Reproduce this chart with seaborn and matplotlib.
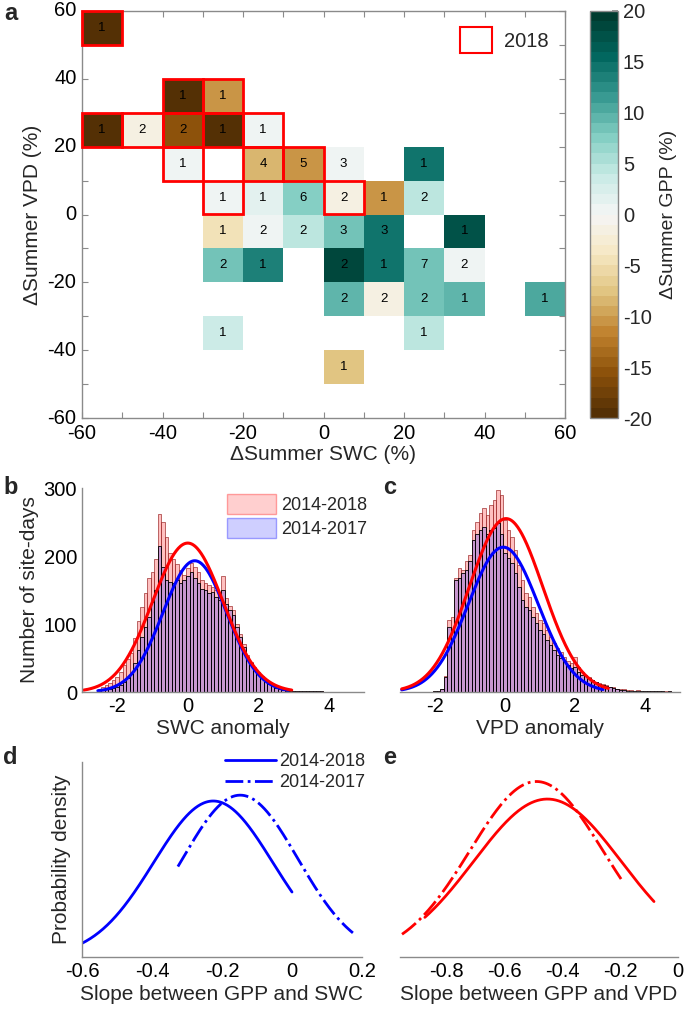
import numpy as np
import pandas as pd
import matplotlib
matplotlib.use("Agg")
import matplotlib.pyplot as plt
import seaborn as sns
from matplotlib.patches import Rectangle, Patch
from matplotlib.lines import Line2D

# ---------------- data ----------------
# panel a: cells (lower-left edges of 10% bins), mean GPP change, count, 2018 flag
cell_swc = [-60, -40, -30, -60, -50, -40, -30, -20, -40, -20, -10, 0, 20,
            -30, -20, -10, 0, 10, 20, -30, -20, -10, 0, 10, 30,
            -30, -20, 0, 10, 20, 30, 0, 10, 20, 30, 50, -30, 20, 0]
cell_vpd = [50, 30, 30, 20, 20, 20, 20, 20, 10, 10, 10, 10, 10,
            0, 0, 0, 0, 0, 0, -10, -10, -10, -10, -10, -10,
            -20, -20, -20, -20, -20, -20, -30, -30, -30, -30, -30, -40, -40, -50]
cell_gpp = [-19.5, -19.5, -10.5, -19.5, -1.5, -15.5, -19.5, 0.3, 0.3, -9, -10.5, 0.8, 14.5,
            0.3, 1.5, 7, -1.5, -11, 4, -5, 0, 4, 8, 14.5, 17,
            8.5, 13, 18, 14, 8, 0.8, 9.5, -1.5, 8, 9.5, 10.5, 3, 4, -8]
cell_n = [1, 1, 1, 1, 2, 2, 1, 1, 1, 4, 5, 3, 1,
          1, 1, 6, 2, 1, 2, 1, 2, 2, 3, 3, 1,
          2, 1, 2, 1, 7, 2, 2, 2, 2, 1, 1, 1, 1, 1]
cell_2018 = [1, 1, 1, 1, 1, 1, 1, 1, 1, 1, 1, 0, 0,
             1, 0, 0, 1, 0, 0, 0, 0, 0, 0, 0, 0,
             0, 0, 0, 0, 0, 0, 0, 0, 0, 0, 0, 0, 0, 0]
axis_ticks_a = [-60, -40, -20, 0, 20, 40, 60]

# panel b: SWC anomaly histogram (bin width 0.1)
swc_centers = [round(-2.5 + 0.1 * i, 1) for i in range(64)]
swc_2018 = [5, 7, 10, 13, 17, 22, 30, 40, 48, 57, 80, 105, 125, 145, 168, 177, 195, 262, 250, 228,
            205, 195, 188, 180, 172, 182, 190, 184, 176, 165, 160, 157, 155, 150, 142, 170, 138, 127,
            120, 100, 85, 70, 54, 44, 37, 30, 24, 19, 14, 10, 7, 5, 4, 3, 2, 2, 1, 1, 1, 1, 2, 1, 2, 1]
swc_2017 = [2, 3, 4, 5, 6, 8, 11, 15, 20, 27, 42, 62, 81, 96, 110, 133, 150, 215, 184, 165,
            162, 160, 165, 160, 165, 170, 177, 167, 160, 152, 150, 145, 147, 140, 135, 150, 130, 120,
            113, 96, 81, 66, 52, 42, 35, 28, 22, 17, 12, 9, 6, 4, 3, 2, 2, 1, 1, 1, 1, 1, 1, 1, 2, 1]

# panel c: VPD anomaly histogram (bin width 0.1)
vpd_centers = [round(-2.0 + 0.1 * i, 1) for i in range(68)]
vpd_2018 = [1, 2, 5, 24, 106, 110, 167, 182, 179, 192, 201, 238, 250, 263, 270, 260, 275, 282, 297, 290,
            253, 238, 228, 209, 187, 165, 145, 140, 125, 116, 106, 101, 91, 81, 72, 64, 59, 52, 45, 42,
            52, 37, 30, 25, 22, 18, 15, 13, 12, 10, 8, 7, 5, 4, 4, 3, 3, 2, 3, 2, 2, 1, 2, 1, 1, 2, 1, 1]
vpd_2017 = [1, 2, 5, 22, 96, 91, 165, 167, 175, 180, 192, 224, 233, 238, 243, 233, 238, 241, 248, 233,
            204, 197, 189, 175, 155, 135, 125, 121, 111, 101, 91, 86, 76, 69, 62, 54, 50, 45, 40, 35,
            37, 30, 25, 23, 20, 17, 14, 12, 10, 9, 7, 6, 4, 3, 3, 2, 2, 2, 2, 1, 1, 1, 1, 1, 1, 1, 0, 1]

# fitted normal curves in b/c: [mean, sd, peak count, x start, x end]
fit_swc_2018 = [0.0, 1.0, 219, -2.95, 2.95]
fit_swc_2017 = [0.2, 0.9, 193, -2.55, 2.85]
fit_vpd_2018 = [0.03, 1.05, 255, -2.95, 2.95]
fit_vpd_2017 = [-0.05, 1.0, 213, -2.95, 2.8]

# panels d/e: slope densities [mean, sd, peak, x start, x end]
slope_swc_2018 = [-0.225, 0.17, 0.80, -0.60, 0.0]
slope_swc_2017 = [-0.148, 0.165, 0.83, -0.326, 0.174]
slope_vpd_2018 = [-0.452, 0.255, 0.81, -0.876, -0.083]
slope_vpd_2017 = [-0.49, 0.23, 0.90, -0.955, -0.197]

# ---------------- style ----------------
sns.set_theme(style="white")
plt.rcParams["font.family"] = ["Liberation Sans", "DejaVu Sans"]
plt.rcParams["font.size"] = 14
plt.rcParams["axes.unicode_minus"] = False
GRAY = "#8a8a8a"
FT = 14.5   # tick labels
FL = 15     # axis labels

fig = plt.figure(figsize=(6.85, 10.15), dpi=100)
W, H = 685.0, 1015.0


def add_ax(l, t, r, b):
    return fig.add_axes([l / W, 1 - b / H, (r - l) / W, (b - t) / H])


def style_spines(ax, sides):
    for name, sp in ax.spines.items():
        sp.set_visible(name in sides)
        sp.set_color(GRAY)
        sp.set_linewidth(1.0)


# ---------------- panel a ----------------
axa = add_ax(82, 11, 565, 418)
cax = add_ax(590, 11, 618, 418)

gpp_mat = np.full((12, 12), np.nan)
ann = np.full((12, 12), "", dtype=object)
for s, v, g, n in zip(cell_swc, cell_vpd, cell_gpp, cell_n):
    r = (50 - v) // 10
    c = (s + 60) // 10
    gpp_mat[r, c] = g
    ann[r, c] = str(n)

cmap = plt.get_cmap("BrBG", 40)
sns.heatmap(gpp_mat, ax=axa, cmap=cmap, vmin=-20, vmax=20, cbar_ax=cax,
            mask=np.isnan(gpp_mat), annot=ann, fmt="",
            annot_kws={"size": 9.5, "color": "black"}, linewidths=0)

for s, v, f in zip(cell_swc, cell_vpd, cell_2018):
    if f:
        r = (50 - v) // 10
        c = (s + 60) // 10
        axa.add_patch(Rectangle((c, r), 1, 1, fill=False, edgecolor="red",
                                lw=2.0, zorder=5, clip_on=False))

axa.set_xlim(0, 12)
axa.set_ylim(12, 0)
axa.set_xticks(range(0, 13, 2))
axa.set_xticklabels([str(t) for t in axis_ticks_a], fontsize=FT, rotation=0)
axa.set_xticks(range(1, 13, 2), minor=True)
axa.set_yticks(range(0, 13, 2))
axa.set_yticklabels([str(t) for t in axis_ticks_a[::-1]], fontsize=FT, rotation=0)
axa.set_yticks(range(1, 13, 2), minor=True)
axa.tick_params(which="both", direction="in", top=True, right=True, bottom=True, left=True,
                length=4, width=0.8, color=GRAY, labelcolor="black", pad=4)
style_spines(axa, ["left", "right", "top", "bottom"])
axa.set_xlabel("ΔSummer SWC (%)", fontsize=FL, labelpad=2)
axa.set_ylabel("ΔSummer VPD (%)", fontsize=FL, labelpad=4)
axa.legend(handles=[Patch(facecolor="white", edgecolor="red", lw=1.5, label="2018")],
           loc="upper right", frameon=False, fontsize=FT, handlelength=1.6, handleheight=1.6,
           borderaxespad=0.4, handletextpad=0.6)

cb = axa.collections[0].colorbar
cb.set_ticks(list(range(-20, 21, 5)))
cb.ax.tick_params(direction="in", length=4, color=GRAY, labelsize=FT, right=True)
cb.outline.set_edgecolor(GRAY)
cb.outline.set_linewidth(1.0)
cb.set_label("ΔSummer GPP (%)", fontsize=14, labelpad=6)

fig.text(4 / W, 1 - 2 / H, "a", fontsize=17, fontweight="bold", va="top", ha="left")

# ---------------- panels b & c ----------------
def hist_panel(ax, centers, h18, h17, fit18, fit17, xlabel):
    edges = [round(c - 0.05, 2) for c in centers] + [round(centers[-1] + 0.05, 2)]
    df = pd.DataFrame({"x": centers, "h18": h18, "h17": h17})
    sns.histplot(data=df, x="x", weights="h18", bins=edges, ax=ax, color="#ff3030",
                 alpha=0.3, edgecolor="#a03030", linewidth=0.5)
    sns.histplot(data=df, x="x", weights="h17", bins=edges, ax=ax, color="#2020ff",
                 alpha=0.25, edgecolor="#000000", linewidth=0.6)
    for fit, col in ((fit17, "blue"), (fit18, "red")):
        mu, sd, pk, x0, x1 = fit
        xs = np.linspace(x0, x1, 300)
        ys = pk * np.exp(-0.5 * ((xs - mu) / sd) ** 2)
        sns.lineplot(x=xs, y=ys, ax=ax, color=col, lw=2.2)
    ax.set_xlim(-3, 5)
    ax.set_ylim(0, 300)
    ax.set_xticks([-2, 0, 2, 4])
    ax.set_xticklabels(["-2", "0", "2", "4"], fontsize=FT)
    ax.set_xlabel(xlabel, fontsize=FL, labelpad=2)
    ax.tick_params(direction="in", length=4, width=0.8, color=GRAY, labelcolor="black")


axb = add_ax(82, 488, 364, 692)
hist_panel(axb, swc_centers, swc_2018, swc_2017, fit_swc_2018, fit_swc_2017, "SWC anomaly")
axb.set_yticks([0, 100, 200, 300])
axb.set_yticklabels(["0", "100", "200", "300"], fontsize=FT)
axb.set_ylabel("Number of site-days", fontsize=FL, labelpad=3)
style_spines(axb, ["left", "bottom"])
axb.legend(handles=[Patch(facecolor=(1, 0.25, 0.25, 0.25), edgecolor=(1, 0.3, 0.3, 0.5), label="2014-2018"),
                    Patch(facecolor=(0.25, 0.25, 1, 0.25), edgecolor=(0.3, 0.3, 1, 0.5), label="2014-2017")],
           loc="upper right", bbox_to_anchor=(1.07, 1.05), frameon=False, fontsize=13,
           handlelength=2.7, handleheight=1.3, labelspacing=0.25, handletextpad=0.3)

axc = add_ax(400, 488, 680, 692)
hist_panel(axc, vpd_centers, vpd_2018, vpd_2017, fit_vpd_2018, fit_vpd_2017, "VPD anomaly")
axc.set_yticks([])
axc.set_ylabel("")
style_spines(axc, ["bottom"])

fig.text(3 / W, 1 - 476 / H, "b", fontsize=17, fontweight="bold", va="top", ha="left")
fig.text(383 / W, 1 - 476 / H, "c", fontsize=17, fontweight="bold", va="top", ha="left")

# ---------------- panels d & e ----------------
def slope_panel(ax, fit_a, fit_b, col):
    for fit, ls in ((fit_a, "-"), (fit_b, "-.")):
        mu, sd, pk, x0, x1 = fit
        xs = np.linspace(x0, x1, 300)
        ys = pk * np.exp(-0.5 * ((xs - mu) / sd) ** 2)
        sns.lineplot(x=xs, y=ys, ax=ax, color=col, lw=2.0, linestyle=ls)
    ax.set_ylim(0, 1)
    ax.set_yticks([])
    ax.tick_params(direction="in", length=4, width=0.8, color=GRAY, labelcolor="black")


axd = add_ax(82, 762, 362, 957)
slope_panel(axd, slope_swc_2018, slope_swc_2017, "blue")
axd.set_xlim(-0.6, 0.2)
axd.set_xticks([-0.6, -0.4, -0.2, 0, 0.2])
axd.set_xticklabels(["-0.6", "-0.4", "-0.2", "0", "0.2"], fontsize=FT)
axd.set_xlabel("Slope between GPP and SWC", fontsize=FL, labelpad=3)
axd.set_ylabel("Probability density", fontsize=FL, labelpad=8)
style_spines(axd, ["left", "bottom"])
axd.legend(handles=[Line2D([], [], color="blue", lw=2, ls="-", label="2014-2018"),
                    Line2D([], [], color="blue", lw=2, ls="-.", label="2014-2017")],
           loc="upper right", bbox_to_anchor=(1.07, 1.13), frameon=False, fontsize=13,
           handlelength=2.8, labelspacing=0.25, handletextpad=0.2)

axe = add_ax(400, 762, 678, 957)
slope_panel(axe, slope_vpd_2018, slope_vpd_2017, "red")
axe.set_xlim(-0.962, 0)
axe.set_xticks([-0.8, -0.6, -0.4, -0.2, 0])
axe.set_xticklabels(["-0.8", "-0.6", "-0.4", "-0.2", "0"], fontsize=FT)
axe.set_xlabel("Slope between GPP and VPD", fontsize=FL, labelpad=3)
axe.set_ylabel("")
style_spines(axe, ["bottom"])

fig.text(3 / W, 1 - 746 / H, "d", fontsize=17, fontweight="bold", va="top", ha="left")
fig.text(383 / W, 1 - 746 / H, "e", fontsize=17, fontweight="bold", va="top", ha="left")

fig.savefig("out.png", dpi=100, facecolor="white")
